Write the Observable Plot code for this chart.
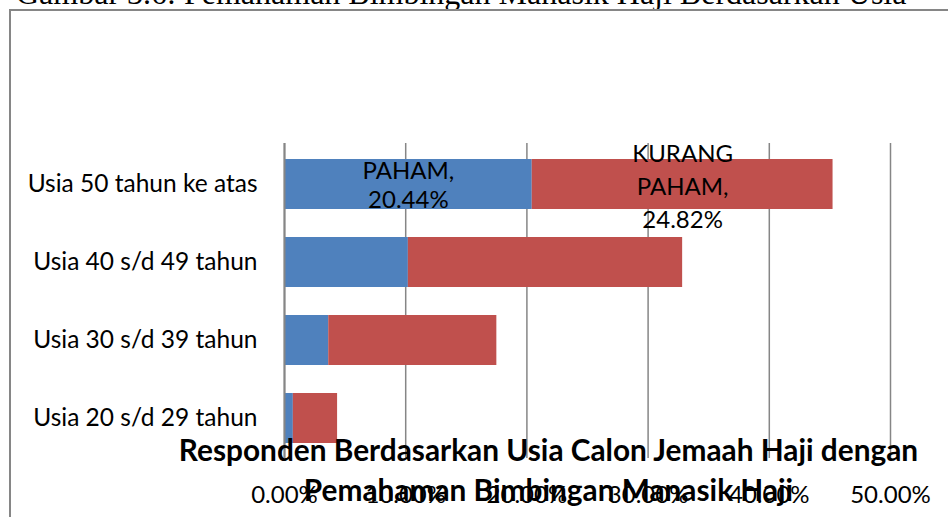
<!DOCTYPE html>
<html>
<head>
<meta charset="utf-8">
<script src="https://cdn.jsdelivr.net/npm/d3@7"></script>
<script src="https://cdn.jsdelivr.net/npm/@observablehq/plot@0.6"></script>
<style>
  html, body { margin: 0; padding: 0; background: #fff; overflow: hidden; }
  #wrap { position: relative; width: 948px; height: 517px; overflow: hidden; }
  #caption { position: absolute; left: 16px; top: -23px; font-family: "Liberation Serif", serif; font-size: 32px; line-height: 32px; white-space: nowrap; color: #000; }
  #frame { position: absolute; left: 9px; top: 9px; width: 1000px; height: 600px; border: 2px solid #868686; box-sizing: border-box; }
  #chart { position: absolute; left: 0; top: 0; }
  #title { position: absolute; left: 0; width: 1097px; top: 430px; text-align: center; font-family: Lato, sans-serif; font-weight: bold; font-size: 29.8px; line-height: 40px; color: #000; white-space: nowrap; }
</style>
</head>
<body>
<div id="wrap">
  <div id="caption">Gambar 3.6: Pemahaman Bimbingan Manasik Haji Berdasarkan Usia</div>
  <div id="frame"></div>
  <div id="chart"></div>
  <div id="title">Responden Berdasarkan Usia Calon Jemaah Haji dengan<br>Pemahaman Bimbingan Manasik Haji</div>
</div>
<script>
const categories = ["Usia 50 tahun ke atas", "Usia 40 s/d 49 tahun", "Usia 30 s/d 39 tahun", "Usia 20 s/d 29 tahun"];
const seriesNames = ["PAHAM", "KURANG PAHAM"];
const paham = [20.44, 10.22, 3.65, 0.73];
const kurangPaham = [24.82, 22.63, 13.87, 3.65];
const xTicks = [0, 10, 20, 30, 40, 50];
const colors = ["#4F81BD", "#C0504D"];

const rows = [];
categories.forEach((c, i) => {
  rows.push({usia: c, seri: seriesNames[0], v: paham[i]});
  rows.push({usia: c, seri: seriesNames[1], v: kurangPaham[i]});
});
const labelBlue = [{usia: categories[0], x: paham[0] / 2, label: "PAHAM,\n" + paham[0].toFixed(2) + "%"}];
const labelRed = [{usia: categories[0], x: paham[0] + kurangPaham[0] / 2, label: "KURANG\nPAHAM,\n" + kurangPaham[0].toFixed(2) + "%"}];

const fontFam = "Lato, sans-serif";
const chart = Plot.plot({
  width: 948,
  height: 517,
  marginLeft: 284,
  marginRight: 58,
  marginTop: 143,
  marginBottom: 59,
  style: {fontFamily: fontFam, fontSize: "24px", color: "#000", background: "transparent", overflow: "visible"},
  x: {domain: [0, 50], ticks: xTicks, tickFormat: d => d.toFixed(2) + "%", label: null},
  y: {domain: categories, paddingInner: 0.365, paddingOuter: 0.18, label: null},
  color: {domain: seriesNames, range: colors},
  marks: [
    Plot.gridX(xTicks, {stroke: "#868686", strokeOpacity: 1, strokeWidth: 1.5}),
    Plot.barX(rows, Plot.stackX({y: "usia", x: "v", fill: "seri", order: seriesNames})),
    Plot.ruleX([0], {stroke: "#868686", strokeWidth: 2}),
    Plot.ruleY([0], {frameAnchor: "bottom", stroke: "#868686", strokeWidth: 1.5}),
    Plot.axisX({ticks: xTicks, tickFormat: d => d.toFixed(2) + "%", tickSize: 0, tickPadding: 27, fontSize: 24, label: null}),
    Plot.axisY({tickSize: 0, tickPadding: 27, fontSize: 24.5, label: null}),
    Plot.text(labelBlue, {y: "usia", x: "x", text: "label", fontSize: 24, fill: "#000", lineHeight: 1.2}),
    Plot.text(labelRed, {y: "usia", x: "x", text: "label", fontSize: 24, fill: "#000", lineHeight: 1.38})
  ]
});
document.getElementById("chart").appendChild(chart);
</script>
</body>
</html>
